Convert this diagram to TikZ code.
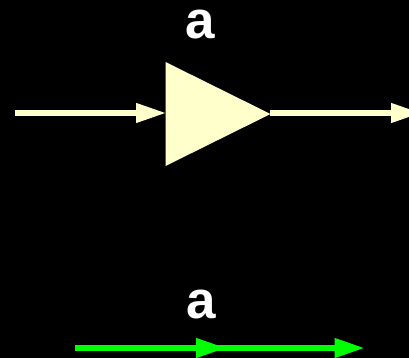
\documentclass[tikz,border=0pt]{standalone}
\usepackage{fontspec}
\setmainfont{Liberation Sans}
\usetikzlibrary{arrows.meta}
\tikzset{
  gainlabel/.style={white, font=\fontsize{53}{53}\selectfont\bfseries, inner sep=0pt},
  signalarrow/.style={line width=6.8pt, -{Triangle[length=31pt, width=18pt]}},
}
\definecolor{gaincream}{HTML}{FFFFCC}
\definecolor{signalgreen}{HTML}{00FF00}
\begin{document}
\begin{tikzpicture}[x=1pt, y=-1pt]
  % Background and page limits
  \fill[black] (0,0) rectangle (409,358);
  \clip (0,0) rectangle (409,358);
  % Amplifier block
  \coordinate (gaintop) at (165.5,62);
  \coordinate (gainbottom) at (165.5,166);
  \coordinate (gaintip) at (270.5,114);
  \coordinate (gainin) at (167,113);
  \fill[gaincream] (gaintop) -- (gaintip) -- (gainbottom) -- cycle;
  \node[gainlabel] (gaina) at (200,25) {a};
  % Input and output signals
  \coordinate (instart) at (15,113);
  \coordinate (outend) at (422,113);
  \coordinate (outstart) at (270,113);
  \draw[signalarrow, gaincream] (instart) -- (gainin);
  \draw[signalarrow, gaincream] (outstart) -- (outend);
  % Branch form of the same gain
  \node[gainlabel] (brancha) at (201.5,304.5) {a};
  \coordinate (branchstart) at (75,348);
  \coordinate (branchmid) at (227,348);
  \coordinate (branchjoin) at (205,348);
  \coordinate (branchend) at (365.5,348);
  \draw[signalarrow, signalgreen] (branchstart) -- (branchmid);
  \draw[signalarrow, signalgreen] (branchjoin) -- (branchend);
\end{tikzpicture}
\end{document}
